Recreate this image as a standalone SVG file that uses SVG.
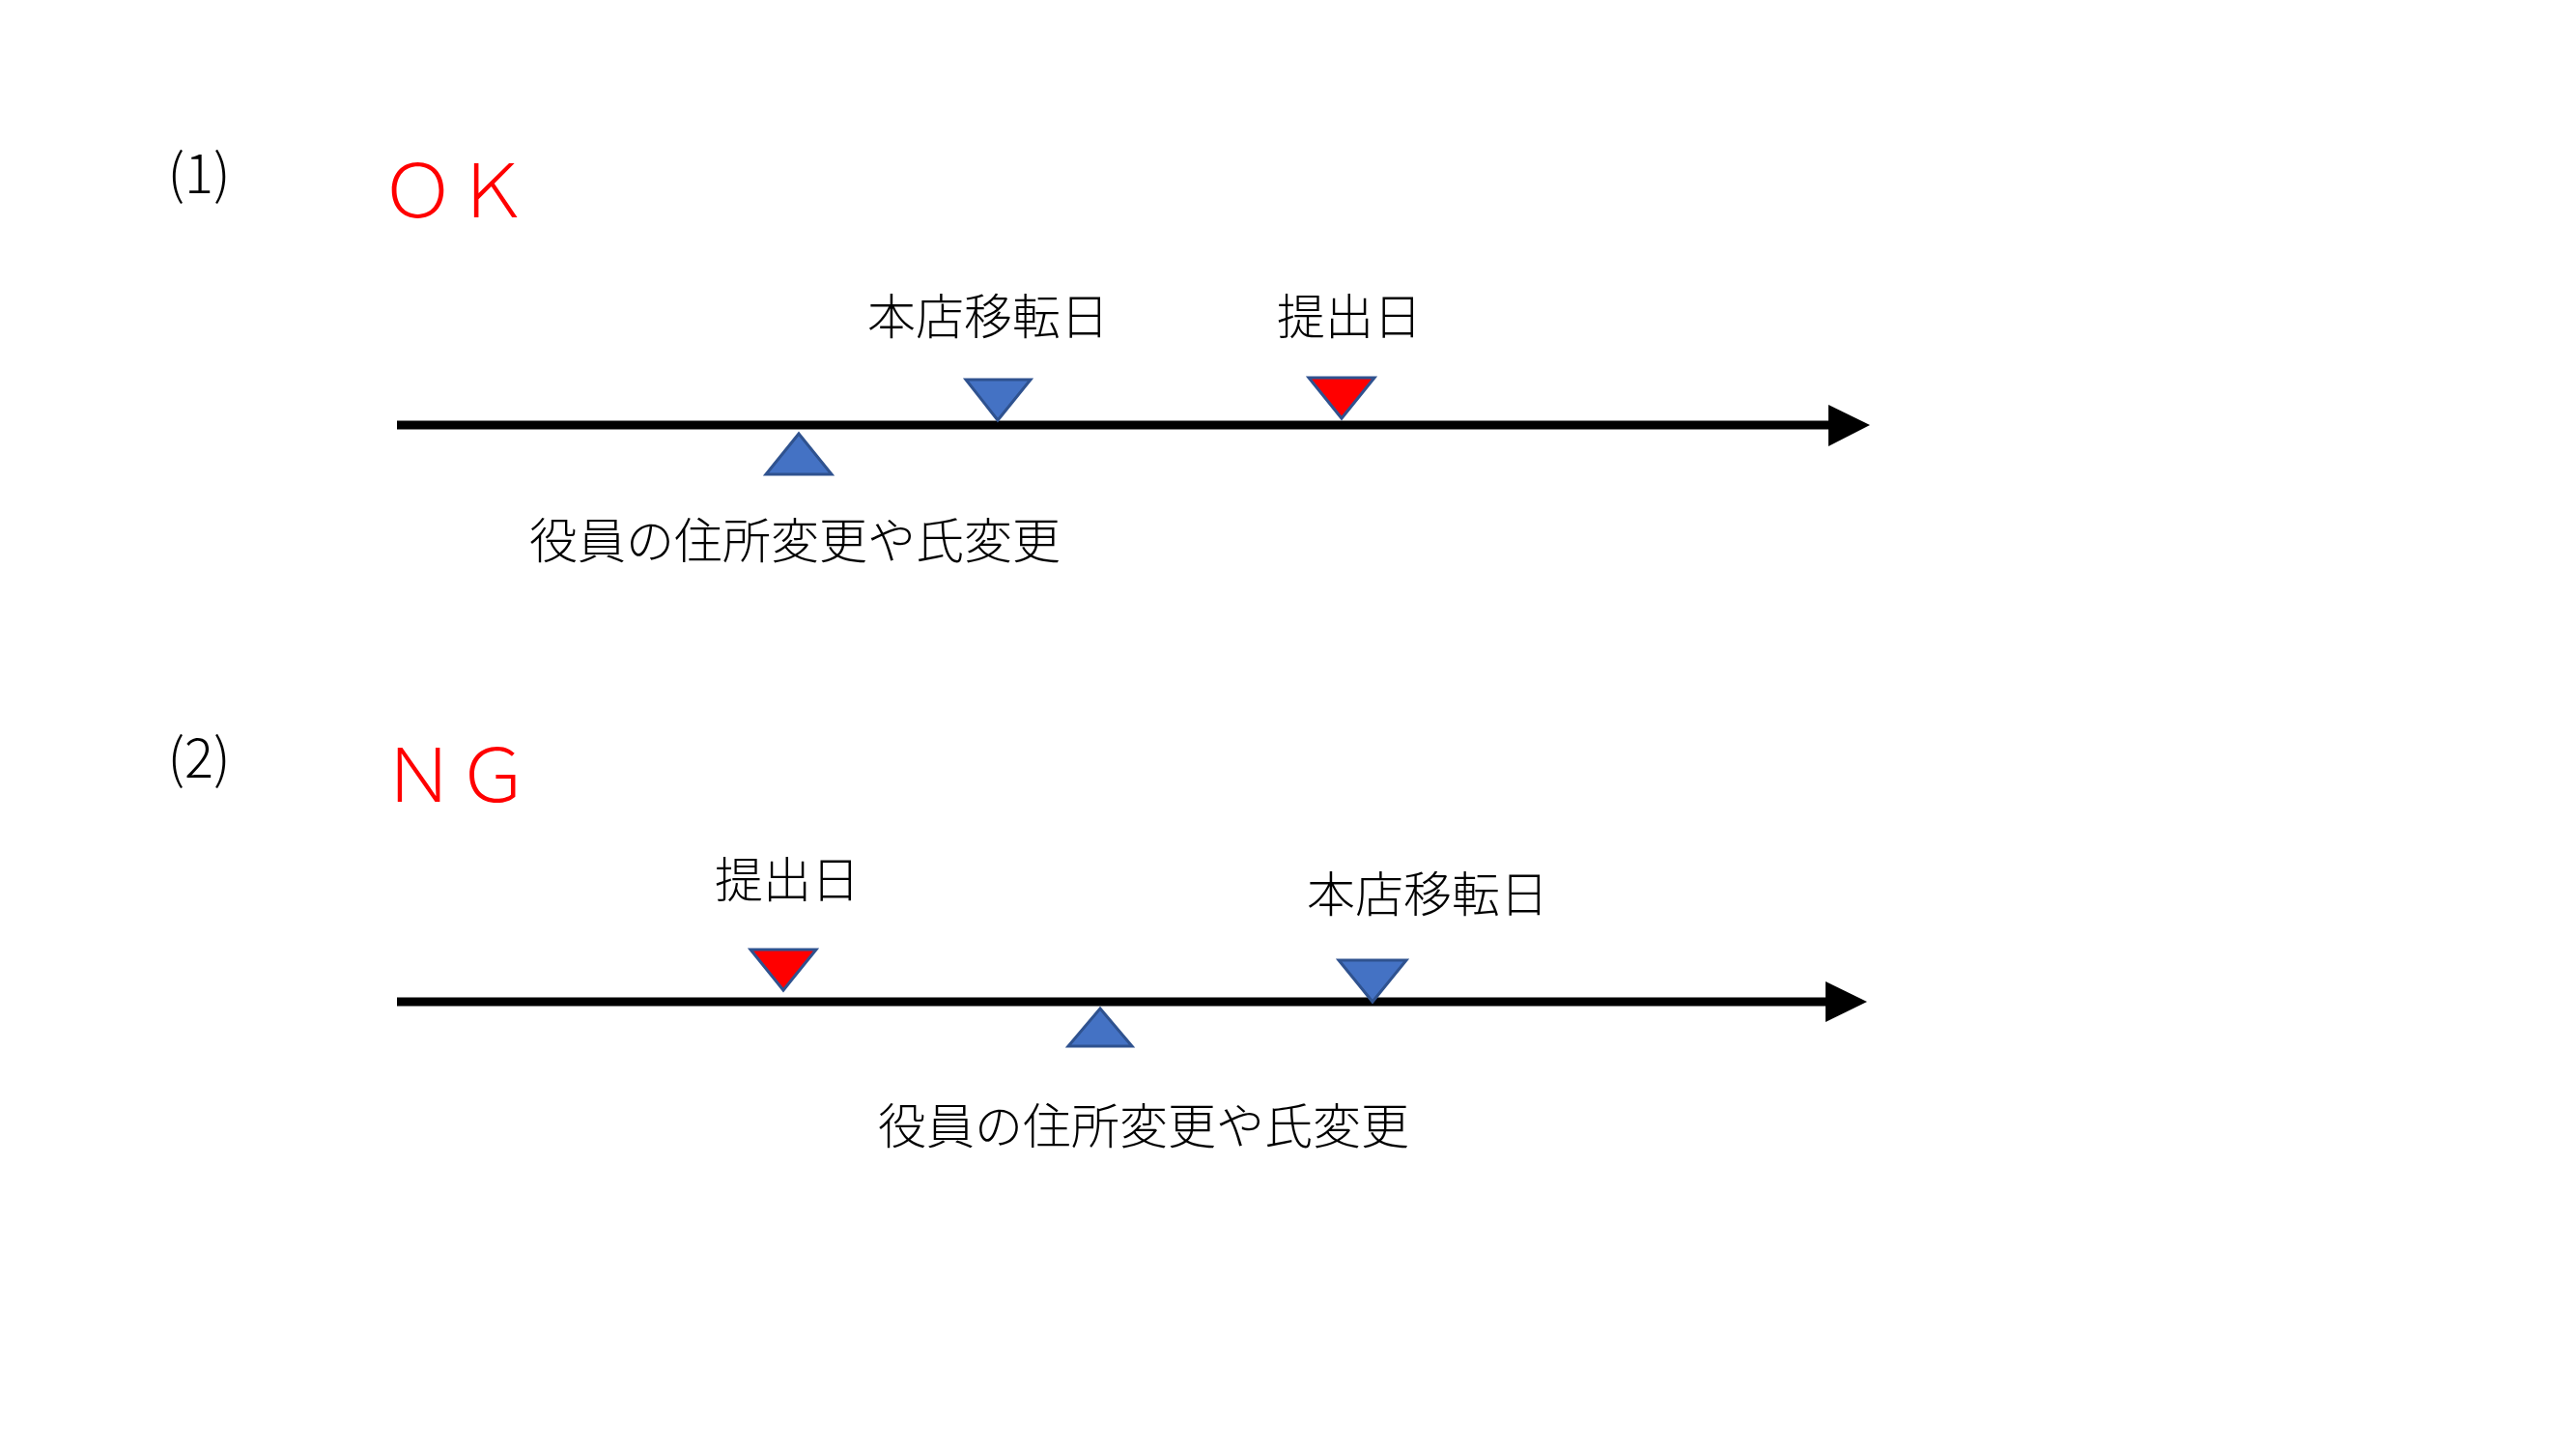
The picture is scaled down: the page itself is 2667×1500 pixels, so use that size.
<svg xmlns="http://www.w3.org/2000/svg" width="2667" height="1500" viewBox="0 0 2667 1500">
<style>
.lbl{font-family:"Noto Sans CJK JP","Noto Sans",sans-serif;font-size:50px;fill:#000;font-weight:300}
.num{font-family:"Noto Sans CJK JP","Noto Sans",sans-serif;font-size:56px;fill:#000;font-weight:300}
.res{font-family:"Noto Sans CJK JP","Noto Sans",sans-serif;font-size:77px;fill:#FF0000;font-weight:300}
.blue{fill:#4472C4;stroke:#2F528F;stroke-width:3}
.red{fill:#FF0000;stroke:#2F528F;stroke-width:3}
.axis{stroke:#000;stroke-width:9;fill:none}
</style>
<rect width="2667" height="1500" fill="#fff"/>
<g id="section1">
  <text class="num" x="206" y="200" text-anchor="middle">(1)</text>
  <text class="res" x="471" y="225" text-anchor="middle">ＯＫ</text>
</g>
<g id="section2">
  <text class="num" x="206" y="805" text-anchor="middle">(2)</text>
  <text class="res" x="472" y="830" text-anchor="middle">ＮＧ</text>
</g>
<g id="connectors">
  <line class="axis" x1="411" y1="440" x2="1895" y2="440"/>
  <polygon points="1893,419 1936,440 1893,462" fill="#000"/>
  <line class="axis" x1="411" y1="1037" x2="1892" y2="1037"/>
  <polygon points="1890,1016 1933,1037 1890,1058" fill="#000"/>
</g>
<g id="ok-officer-change">
  <polygon class="blue" points="827,449 861,491 793,491"/>
  <text class="lbl" x="548" y="578">役員の住所変更や氏変更</text>
</g>
<g id="ok-relocation">
  <polygon class="blue" points="1000,393 1067,393 1033,435"/>
  <text class="lbl" x="898" y="346">本店移転日</text>
</g>
<g id="ok-submission">
  <polygon class="red" points="1355,391 1423,391 1389,433"/>
  <text class="lbl" x="1322" y="346">提出日</text>
</g>
<g id="ng-submission">
  <polygon class="red" points="777,983 845,983 811,1025"/>
  <text class="lbl" x="740" y="929">提出日</text>
</g>
<g id="ng-officer-change">
  <polygon class="blue" points="1139,1044 1172,1083 1106,1083"/>
  <text class="lbl" x="909" y="1184">役員の住所変更や氏変更</text>
</g>
<g id="ng-relocation">
  <polygon class="blue" points="1386,994 1456,994 1421,1037"/>
  <text class="lbl" x="1353" y="944">本店移転日</text>
</g>
</svg>
